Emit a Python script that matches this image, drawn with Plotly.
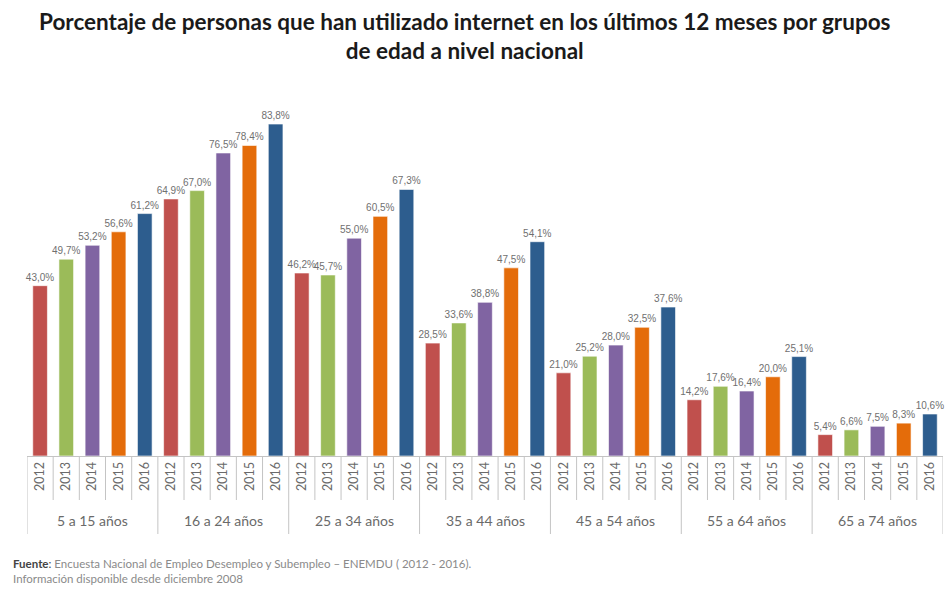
import plotly.graph_objects as go

# Internet use by age group and year (percent)
groups = ["5 a 15 años", "16 a 24 años", "25 a 34 años", "35 a 44 años",
          "45 a 54 años", "55 a 64 años", "65 a 74 años"]
years = ["2012", "2013", "2014", "2015", "2016"]

v2012 = [43.0, 64.9, 46.2, 28.5, 21.0, 14.2, 5.4]
v2013 = [49.7, 67.0, 45.7, 33.6, 25.2, 17.6, 6.6]
v2014 = [53.2, 76.5, 55.0, 38.8, 28.0, 16.4, 7.5]
v2015 = [56.6, 78.4, 60.5, 47.5, 32.5, 20.0, 8.3]
v2016 = [61.2, 83.8, 67.3, 54.1, 37.6, 25.1, 10.6]

series = [v2012, v2013, v2014, v2015, v2016]
colors = ["#C0504D", "#9BBB59", "#8064A2", "#E46C0A", "#2D5D8E"]

n_years = len(years)
fig = go.Figure()

for yi, (yr, vals, col) in enumerate(zip(years, series, colors)):
    xs = [gi * n_years + yi for gi in range(len(groups))]
    labels = [f"{v:.1f}%".replace(".", ",") for v in vals]
    fig.add_trace(go.Bar(
        x=xs, y=vals, name=yr,
        marker=dict(color=col, line=dict(color="rgba(255,255,255,0.6)", width=1)),
        text=labels, textposition="outside", cliponaxis=False,
        constraintext="none",
        textfont=dict(family="Liberation Sans", size=10, color="#707070"),
        width=0.56,
    ))

tickvals = list(range(len(groups) * n_years))
ticktext = [years[i % n_years] for i in tickvals]

# plot area geometry in pixels, used to place paper-referenced items
TOP, BOTTOM = 90, 134
PLOT_H = 590 - TOP - BOTTOM


def py(pix_y):
    """Convert a pixel row (from the top of the page) to paper y."""
    return (590 - BOTTOM - pix_y) / PLOT_H


axis_grey = "#c4c4c4"
shapes = []
# short separators between year ticks, long ones between groups
for b in range(len(tickvals) + 1):
    xpos = b - 0.5
    is_group = (b % n_years == 0)
    shapes.append(dict(
        type="line", xref="x", yref="paper",
        x0=xpos, x1=xpos, y0=0, y1=py(534) if is_group else py(500),
        line=dict(color=axis_grey, width=1),
    ))

annotations = []
for gi, g in enumerate(groups):
    annotations.append(dict(
        x=gi * n_years + (n_years - 1) / 2, y=py(520), xref="x", yref="paper",
        text=g, showarrow=False,
        font=dict(family="Lato", size=14, color="#6a6a6a"),
        xanchor="center", yanchor="middle",
    ))

# title
annotations.append(dict(
    x=0.478, y=py(36), xref="paper", yref="paper", xanchor="center", yanchor="middle",
    showarrow=False, align="center",
    text="<b>Porcentaje de personas que han utilizado internet en los últimos 12 meses por grupos<br>de edad a nivel nacional</b>",
    font=dict(family="Lato", size=22.5, color="#1a1a1a"),
))

# source note
annotations.append(dict(
    x=-0.018, y=py(555), xref="paper", yref="paper", xanchor="left", yanchor="top",
    showarrow=False, align="left",
    text=("<span style='color:#444'><b>Fuente</b>:</span> Encuesta Nacional de Empleo Desempleo y "
          "Subempleo – ENEMDU ( 2012 - 2016).<br>Información disponible desde diciembre 2008"),
    font=dict(family="Lato", size=11.5, color="#8a8a8a"),
))

fig.update_layout(
    width=952, height=590,
    margin=dict(l=27, r=9, t=TOP, b=BOTTOM),
    paper_bgcolor="white", plot_bgcolor="white",
    showlegend=False,
    barmode="overlay",
    xaxis=dict(
        range=[-0.5, len(tickvals) - 0.5],
        tickmode="array", tickvals=tickvals, ticktext=ticktext,
        tickangle=-90, ticks="", showgrid=False, zeroline=False,
        showline=True, linecolor=axis_grey, linewidth=1,
        tickfont=dict(family="Lato", size=12.5, color="#6a6a6a"),
    ),
    yaxis=dict(range=[0, 92.4], visible=False, showgrid=False, zeroline=False),
    shapes=shapes,
    annotations=annotations,
)

fig.write_html("out.html")
